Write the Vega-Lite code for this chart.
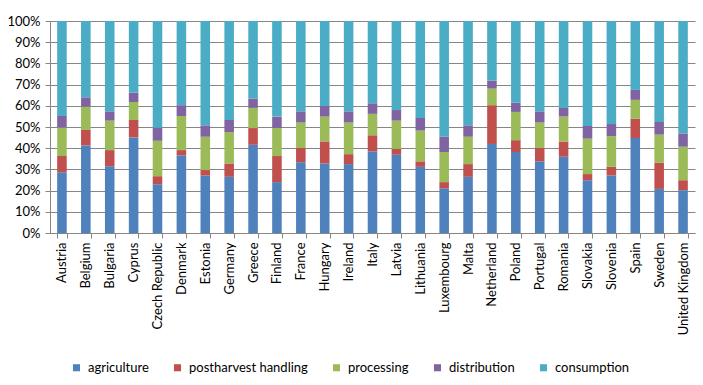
{
  "$schema": "https://vega.github.io/schema/vega-lite/v6.json",
  "width": 645,
  "height": 212,
  "autosize": "none",
  "padding": {"left": 50, "top": 21, "right": 8, "bottom": 152},
  "background": "white",
  "config": {
    "view": {"stroke": null},
    "font": "Lato",
    "axis": {"labelFont": "Lato", "labelFontSize": 13, "labelColor": "#000000", "domainColor": "#868686", "tickColor": "#868686", "gridColor": "#868686", "titleFontSize": 0}
  },
  "data": {
    "values": [
      {"country": "Austria", "stage": "agriculture", "value": 28.7},
      {"country": "Austria", "stage": "postharvest handling", "value": 7.6},
      {"country": "Austria", "stage": "processing", "value": 13.5},
      {"country": "Austria", "stage": "distribution", "value": 5.4},
      {"country": "Austria", "stage": "consumption", "value": 44.8},
      {"country": "Belgium", "stage": "agriculture", "value": 41.3},
      {"country": "Belgium", "stage": "postharvest handling", "value": 7.3},
      {"country": "Belgium", "stage": "processing", "value": 11.0},
      {"country": "Belgium", "stage": "distribution", "value": 4.4},
      {"country": "Belgium", "stage": "consumption", "value": 36.0},
      {"country": "Bulgaria", "stage": "agriculture", "value": 31.5},
      {"country": "Bulgaria", "stage": "postharvest handling", "value": 7.6},
      {"country": "Bulgaria", "stage": "processing", "value": 13.9},
      {"country": "Bulgaria", "stage": "distribution", "value": 4.4},
      {"country": "Bulgaria", "stage": "consumption", "value": 42.6},
      {"country": "Cyprus", "stage": "agriculture", "value": 45.1},
      {"country": "Cyprus", "stage": "postharvest handling", "value": 8.2},
      {"country": "Cyprus", "stage": "processing", "value": 8.5},
      {"country": "Cyprus", "stage": "distribution", "value": 4.4},
      {"country": "Cyprus", "stage": "consumption", "value": 33.8},
      {"country": "Czech Republic", "stage": "agriculture", "value": 23.0},
      {"country": "Czech Republic", "stage": "postharvest handling", "value": 3.8},
      {"country": "Czech Republic", "stage": "processing", "value": 16.7},
      {"country": "Czech Republic", "stage": "distribution", "value": 6.2},
      {"country": "Czech Republic", "stage": "consumption", "value": 50.3},
      {"country": "Denmark", "stage": "agriculture", "value": 36.6},
      {"country": "Denmark", "stage": "postharvest handling", "value": 2.5},
      {"country": "Denmark", "stage": "processing", "value": 16.1},
      {"country": "Denmark", "stage": "distribution", "value": 5.1},
      {"country": "Denmark", "stage": "consumption", "value": 39.7},
      {"country": "Estonia", "stage": "agriculture", "value": 27.1},
      {"country": "Estonia", "stage": "postharvest handling", "value": 2.6},
      {"country": "Estonia", "stage": "processing", "value": 15.7},
      {"country": "Estonia", "stage": "distribution", "value": 5.4},
      {"country": "Estonia", "stage": "consumption", "value": 49.2},
      {"country": "Germany", "stage": "agriculture", "value": 26.5},
      {"country": "Germany", "stage": "postharvest handling", "value": 6.3},
      {"country": "Germany", "stage": "processing", "value": 14.8},
      {"country": "Germany", "stage": "distribution", "value": 5.7},
      {"country": "Germany", "stage": "consumption", "value": 46.7},
      {"country": "Greece", "stage": "agriculture", "value": 41.6},
      {"country": "Greece", "stage": "postharvest handling", "value": 7.9},
      {"country": "Greece", "stage": "processing", "value": 9.5},
      {"country": "Greece", "stage": "distribution", "value": 4.4},
      {"country": "Greece", "stage": "consumption", "value": 36.6},
      {"country": "Finland", "stage": "agriculture", "value": 24.0},
      {"country": "Finland", "stage": "postharvest handling", "value": 12.3},
      {"country": "Finland", "stage": "processing", "value": 13.2},
      {"country": "Finland", "stage": "distribution", "value": 5.4},
      {"country": "Finland", "stage": "consumption", "value": 45.1},
      {"country": "France", "stage": "agriculture", "value": 33.4},
      {"country": "France", "stage": "postharvest handling", "value": 6.7},
      {"country": "France", "stage": "processing", "value": 12.0},
      {"country": "France", "stage": "distribution", "value": 5.3},
      {"country": "France", "stage": "consumption", "value": 42.6},
      {"country": "Hungary", "stage": "agriculture", "value": 32.8},
      {"country": "Hungary", "stage": "postharvest handling", "value": 10.4},
      {"country": "Hungary", "stage": "processing", "value": 11.7},
      {"country": "Hungary", "stage": "distribution", "value": 5.0},
      {"country": "Hungary", "stage": "consumption", "value": 40.1},
      {"country": "Ireland", "stage": "agriculture", "value": 32.5},
      {"country": "Ireland", "stage": "postharvest handling", "value": 4.7},
      {"country": "Ireland", "stage": "processing", "value": 14.9},
      {"country": "Ireland", "stage": "distribution", "value": 5.3},
      {"country": "Ireland", "stage": "consumption", "value": 42.6},
      {"country": "Italy", "stage": "agriculture", "value": 38.5},
      {"country": "Italy", "stage": "postharvest handling", "value": 7.6},
      {"country": "Italy", "stage": "processing", "value": 10.1},
      {"country": "Italy", "stage": "distribution", "value": 5.0},
      {"country": "Italy", "stage": "consumption", "value": 38.8},
      {"country": "Latvia", "stage": "agriculture", "value": 36.9},
      {"country": "Latvia", "stage": "postharvest handling", "value": 2.8},
      {"country": "Latvia", "stage": "processing", "value": 13.3},
      {"country": "Latvia", "stage": "distribution", "value": 5.0},
      {"country": "Latvia", "stage": "consumption", "value": 42.0},
      {"country": "Lithuania", "stage": "agriculture", "value": 31.2},
      {"country": "Lithuania", "stage": "postharvest handling", "value": 2.6},
      {"country": "Lithuania", "stage": "processing", "value": 14.5},
      {"country": "Lithuania", "stage": "distribution", "value": 6.0},
      {"country": "Lithuania", "stage": "consumption", "value": 45.7},
      {"country": "Luxembourg", "stage": "agriculture", "value": 21.1},
      {"country": "Luxembourg", "stage": "postharvest handling", "value": 2.9},
      {"country": "Luxembourg", "stage": "processing", "value": 14.2},
      {"country": "Luxembourg", "stage": "distribution", "value": 7.2},
      {"country": "Luxembourg", "stage": "consumption", "value": 54.6},
      {"country": "Malta", "stage": "agriculture", "value": 26.5},
      {"country": "Malta", "stage": "postharvest handling", "value": 6.0},
      {"country": "Malta", "stage": "processing", "value": 12.9},
      {"country": "Malta", "stage": "distribution", "value": 5.4},
      {"country": "Malta", "stage": "consumption", "value": 49.2},
      {"country": "Netherland", "stage": "agriculture", "value": 42.0},
      {"country": "Netherland", "stage": "postharvest handling", "value": 18.3},
      {"country": "Netherland", "stage": "processing", "value": 7.8},
      {"country": "Netherland", "stage": "distribution", "value": 3.8},
      {"country": "Netherland", "stage": "consumption", "value": 28.1},
      {"country": "Poland", "stage": "agriculture", "value": 38.2},
      {"country": "Poland", "stage": "postharvest handling", "value": 5.6},
      {"country": "Poland", "stage": "processing", "value": 13.3},
      {"country": "Poland", "stage": "distribution", "value": 4.4},
      {"country": "Poland", "stage": "consumption", "value": 38.5},
      {"country": "Portugal", "stage": "agriculture", "value": 33.8},
      {"country": "Portugal", "stage": "postharvest handling", "value": 6.3},
      {"country": "Portugal", "stage": "processing", "value": 12.0},
      {"country": "Portugal", "stage": "distribution", "value": 5.3},
      {"country": "Portugal", "stage": "consumption", "value": 42.6},
      {"country": "Romania", "stage": "agriculture", "value": 36.0},
      {"country": "Romania", "stage": "postharvest handling", "value": 7.2},
      {"country": "Romania", "stage": "processing", "value": 11.7},
      {"country": "Romania", "stage": "distribution", "value": 4.1},
      {"country": "Romania", "stage": "consumption", "value": 41.0},
      {"country": "Slovakia", "stage": "agriculture", "value": 24.9},
      {"country": "Slovakia", "stage": "postharvest handling", "value": 2.9},
      {"country": "Slovakia", "stage": "processing", "value": 16.7},
      {"country": "Slovakia", "stage": "distribution", "value": 6.0},
      {"country": "Slovakia", "stage": "consumption", "value": 49.5},
      {"country": "Slovenia", "stage": "agriculture", "value": 27.1},
      {"country": "Slovenia", "stage": "postharvest handling", "value": 4.1},
      {"country": "Slovenia", "stage": "processing", "value": 14.5},
      {"country": "Slovenia", "stage": "distribution", "value": 5.7},
      {"country": "Slovenia", "stage": "consumption", "value": 48.6},
      {"country": "Spain", "stage": "agriculture", "value": 44.8},
      {"country": "Spain", "stage": "postharvest handling", "value": 9.1},
      {"country": "Spain", "stage": "processing", "value": 8.9},
      {"country": "Spain", "stage": "distribution", "value": 4.7},
      {"country": "Spain", "stage": "consumption", "value": 32.5},
      {"country": "Sweden", "stage": "agriculture", "value": 20.8},
      {"country": "Sweden", "stage": "postharvest handling", "value": 12.3},
      {"country": "Sweden", "stage": "processing", "value": 13.3},
      {"country": "Sweden", "stage": "distribution", "value": 6.0},
      {"country": "Sweden", "stage": "consumption", "value": 47.6},
      {"country": "United Kingdom", "stage": "agriculture", "value": 20.2},
      {"country": "United Kingdom", "stage": "postharvest handling", "value": 4.7},
      {"country": "United Kingdom", "stage": "processing", "value": 15.8},
      {"country": "United Kingdom", "stage": "distribution", "value": 6.3},
      {"country": "United Kingdom", "stage": "consumption", "value": 53.0}
    ]
  },
  "transform": [
    {"calculate": "indexof(['agriculture', 'postharvest handling', 'processing', 'distribution', 'consumption'], datum.stage)", "as": "stageRank"}
  ],
  "mark": {"type": "bar"},
  "encoding": {
    "x": {
      "field": "country",
      "type": "nominal",
      "sort": null,
      "title": null,
      "scale": {"paddingInner": 0.6, "paddingOuter": 0.3},
      "axis": {"labelAngle": -90, "tickBand": "extent", "tickSize": 5, "labelPadding": 4, "domainColor": "#868686"}
    },
    "y": {
      "field": "value",
      "type": "quantitative",
      "stack": "normalize",
      "title": null,
      "scale": {"domain": [0, 1]},
      "axis": {"format": ".0%", "values": [0, 0.1, 0.2, 0.3, 0.4, 0.5, 0.6, 0.7, 0.8, 0.9, 1], "tickSize": 5, "labelPadding": 5, "grid": true, "gridColor": "#868686"}
    },
    "color": {
      "field": "stage",
      "type": "nominal",
      "scale": {
        "domain": ["agriculture", "postharvest handling", "processing", "distribution", "consumption"],
        "range": ["#4F81BD", "#C0504D", "#9BBB59", "#8064A2", "#4BACC6"]
      },
      "legend": {
        "title": null,
        "orient": "none",
        "direction": "horizontal",
        "legendX": 20,
        "legendY": 340,
        "symbolType": "square",
        "symbolSize": 50,
        "symbolStrokeWidth": 0,
        "labelFont": "Lato",
        "labelFontSize": 13,
        "labelColor": "#000000",
        "labelOffset": 5,
        "columnPadding": 22
      }
    },
    "order": {"field": "stageRank", "type": "quantitative", "sort": "ascending"}
  }
}
